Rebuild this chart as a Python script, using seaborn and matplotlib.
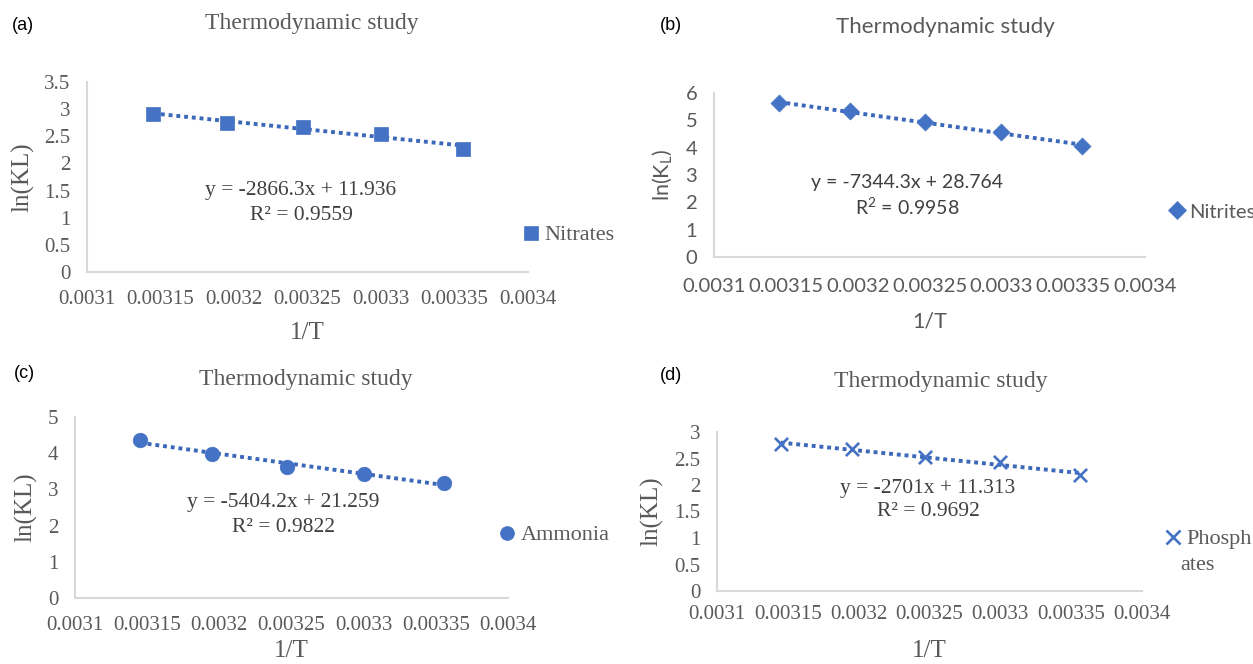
import matplotlib.pyplot as plt
import seaborn as sns
import pandas as pd

sns.set_theme(style="white")
plt.rcParams["font.family"] = ["Liberation Serif", "DejaVu Serif"]

W, H = 1253, 664

# ---- data ----
inv_T = [0.003145, 0.003195, 0.003247, 0.0033, 0.003356]
nitrates = [2.91, 2.75, 2.67, 2.55, 2.27]
nitrites = [5.63, 5.33, 4.93, 4.56, 4.07]
ammonia = [4.36, 3.99, 3.62, 3.42, 3.18]
phosphates = [2.78, 2.67, 2.52, 2.44, 2.18]

series_names = ["Nitrates", "Nitrites", "Ammonia", "Phosphates"]
equations = ["y = -2866.3x + 11.936", "y = -7344.3x + 28.764",
             "y = -5404.2x + 21.259", "y = -2701x + 11.313"]
r2_values = ["0.9559", "0.9958", "0.9822", "0.9692"]
panel_tags = ["(a)", "(b)", "(c)", "(d)"]
x_ticks = [0.0031, 0.00315, 0.0032, 0.00325, 0.0033, 0.00335, 0.0034]
y_ticks = [
    [0, 0.5, 1, 1.5, 2, 2.5, 3, 3.5],
    [0, 1, 2, 3, 4, 5, 6],
    [0, 1, 2, 3, 4, 5],
    [0, 0.5, 1, 1.5, 2, 2.5, 3],
]

BLUE = "#4472C4"
LINE_BLUE = "#3B68B8"
GREY_TXT = "#595959"
EQ_TXT = "#404040"
AXIS_GREY = "#D9D9D9"
SANS = ["Lato", "DejaVu Sans"]
SERIF = ["Liberation Serif", "DejaVu Serif"]

# font sizes: (ticks, title, equation, legend, axis labels)
SERIF_SIZES = dict(tick=15, title=17, eq=15.5, leg=16, lab=18)
SANS_SIZES = dict(tick=14.5, title=16, eq=14, leg=14.5, lab=15.5)


def px_box(x0, y0, x1, y1):
    return [x0 / W, 1 - y1 / H, (x1 - x0) / W, (y1 - y0) / H]


# layout in pixels of the 1253x664 canvas
panels = [
    dict(box=(87, 82, 528, 272), title=(312, 24), eq=(301, 191), r2=(301, 215),
         leg=(528, 235), tag=(12, 25), xlab=(307, 333), ylab_x=23,
         xpad=13, ypad=12, marker="s", size=95, family=SERIF,
         ylabel="ln(KL)"),
    dict(box=(714, 93, 1145, 257), title=(945, 27), eq=(907, 182), r2=(907, 207),
         leg=(1175, 212), tag=(660, 25), xlab=(930, 322), ylab_x=663,
         xpad=15, ypad=12, marker="D", size=75, family=SANS,
         ylabel="ln(K$_\\mathregular{L}$)"),
    dict(box=(75, 417, 508, 598), title=(306, 380), eq=(283, 502), r2=(283, 527),
         leg=(504, 535), tag=(14, 373), xlab=(291, 651), ylab_x=26,
         xpad=13, ypad=12, marker="o", size=110, family=SERIF,
         ylabel="ln(KL)"),
    dict(box=(717, 432, 1142, 591), title=(941, 381), eq=(928, 488), r2=(928, 512),
         leg=(1170, 539), tag=(660, 375), xlab=(929, 651), ylab_x=652,
         xpad=10, ypad=12, marker="x", size=90, family=SERIF,
         ylabel="ln(KL)"),
]
all_y = [nitrates, nitrites, ammonia, phosphates]

fig = plt.figure(figsize=(W / 100, H / 100), dpi=100)

for i, p in enumerate(panels):
    x0, y0, x1, y1 = p["box"]
    ax = fig.add_axes(px_box(x0, y0, x1, y1))
    df = pd.DataFrame({"inv_T": inv_T, "lnK": all_y[i]})
    fam = p["family"]
    fs = SANS_SIZES if fam is SANS else SERIF_SIZES

    # linear trendline (dotted) + markers
    sns.regplot(data=df, x="inv_T", y="lnK", ax=ax, scatter=False, ci=None,
                truncate=True,
                line_kws=dict(color=LINE_BLUE, lw=2.8, linestyle=(0, (1, 1.0))))
    if p["marker"] == "x":
        sns.scatterplot(data=df, x="inv_T", y="lnK", ax=ax, marker="x",
                        s=p["size"], color=BLUE, linewidth=1.9, zorder=3)
    else:
        sns.scatterplot(data=df, x="inv_T", y="lnK", ax=ax, marker=p["marker"],
                        s=p["size"], color=BLUE, edgecolor=BLUE, linewidth=0.5,
                        zorder=3)

    ax.set_xlim(x_ticks[0], x_ticks[-1])
    ax.set_ylim(y_ticks[i][0], y_ticks[i][-1])
    ax.set_xticks(x_ticks)
    ax.set_xticklabels([f"{v:g}" for v in x_ticks])
    ax.set_yticks(y_ticks[i])
    ax.set_yticklabels([f"{v:g}" for v in y_ticks[i]])
    ax.tick_params(length=0, labelsize=fs["tick"], colors=GREY_TXT)
    ax.tick_params(axis="x", pad=p["xpad"])
    ax.tick_params(axis="y", pad=p["ypad"])
    for lab in ax.get_xticklabels() + ax.get_yticklabels():
        lab.set_family(fam)
    for s in ["top", "right"]:
        ax.spines[s].set_visible(False)
    for s in ["left", "bottom"]:
        ax.spines[s].set_color(AXIS_GREY)
        ax.spines[s].set_linewidth(1.5)
    ax.set_xlabel("")
    ax.set_ylabel("")

    # title, axis labels, panel tag
    fig.text(p["title"][0] / W, 1 - p["title"][1] / H, "Thermodynamic study",
             ha="center", va="center", fontsize=fs["title"], color=GREY_TXT,
             family=fam)
    fig.text(p["xlab"][0] / W, 1 - p["xlab"][1] / H, "1/T", ha="center",
             va="center", fontsize=fs["lab"], color=GREY_TXT, family=fam)
    fig.text(p["ylab_x"] / W, 1 - ((y0 + y1) / 2) / H, p["ylabel"],
             ha="center", va="center", rotation=90, fontsize=fs["lab"],
             color=GREY_TXT, family=fam)
    fig.text(p["tag"][0] / W, 1 - p["tag"][1] / H, panel_tags[i], ha="left",
             va="center", fontsize=13, color="black",
             family=["Liberation Sans", "DejaVu Sans"])

    # trendline equation
    fig.text(p["eq"][0] / W, 1 - p["eq"][1] / H, equations[i], ha="center",
             va="center", fontsize=fs["eq"], color=EQ_TXT, family=fam)
    r2_txt = ("R$^\\mathregular{2}$ = " if fam is SANS else "R² = ") + r2_values[i]
    fig.text(p["r2"][0] / W, 1 - p["r2"][1] / H, r2_txt, ha="center",
             va="center", fontsize=fs["eq"], color=EQ_TXT, family=fam)

    # legend (the long name wraps like in the original)
    name = series_names[i]
    first_line = name if len(name) < 9 else name[:6]
    mk = p["marker"]
    handle = plt.Line2D([], [], linestyle="none", marker=mk, color=BLUE,
                        markersize=10 if mk != "D" else 9,
                        markeredgewidth=1.9 if mk == "x" else 0.5)
    lx, ly = p["leg"]
    fig.legend([handle], [first_line], loc="center left",
               bbox_to_anchor=((lx - 7) / W, 1 - ly / H), frameon=False,
               handlelength=0.9, handletextpad=0.15, borderpad=0,
               borderaxespad=0,
               prop=dict(family=fam, size=fs["leg"]), labelcolor=GREY_TXT)
    if first_line != name:
        fig.text((lx + 10) / W, 1 - (ly + 26) / H, name[6:], ha="left",
                 va="center", fontsize=fs["leg"], color=GREY_TXT, family=fam)

fig.savefig("out.png", dpi=100)
